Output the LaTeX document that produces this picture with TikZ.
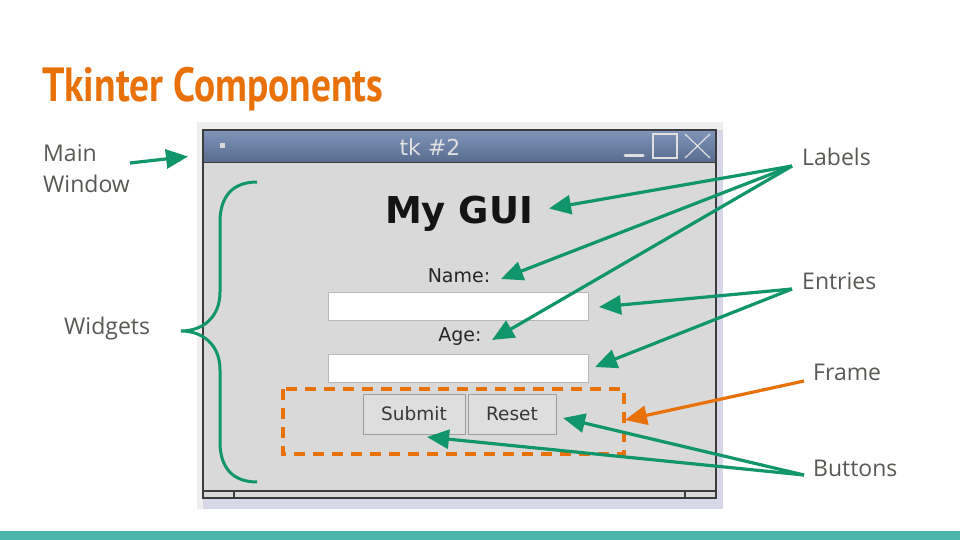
\documentclass[tikz,border=0pt]{standalone}
\usepackage{fontspec}
\setmainfont{Open Sans}
\newfontfamily\guifont{DejaVu Sans}
\newfontfamily\titlefont{PT Sans Bold}
\usetikzlibrary{arrows.meta}
\definecolor{accgreen}{RGB}{16,150,106}
\definecolor{accorange}{RGB}{232,113,10}
\definecolor{annot}{RGB}{90,88,84}
\definecolor{teal}{RGB}{77,182,172}
\definecolor{wingray}{RGB}{217,217,217}
\definecolor{outergray}{RGB}{238,238,238}
\definecolor{lavender}{RGB}{214,216,232}
\definecolor{border}{RGB}{60,60,60}
\tikzset{
  annot/.style={font=\fontsize{23}{23}\selectfont, text=annot, anchor=base west, inner sep=0pt},
  gptr/.style={draw=accgreen, line width=3.2pt, -{Triangle[length=22pt,width=19pt]}},
  optr/.style={draw=accorange, line width=3.2pt, -{Triangle[length=22pt,width=19pt]}},
  entrybox/.style={fill=white, draw=black!28, line width=1pt},
  buttonbox/.style={fill=black!13, draw=black!38, line width=1pt},
  guitext/.style={font=\guifont\fontsize{19}{19}\selectfont, text=black!85, inner sep=0pt},
  btntext/.style={font=\guifont\fontsize{18.5}{18.5}\selectfont, text=black!78, inner sep=0pt}
}
\begin{document}
\begin{tikzpicture}[x=1pt,y=-1pt]
\useasboundingbox (0,0) rectangle (960,540);
\fill[white] (0,0) rectangle (960,540);
% bottom band
\fill[teal] (0,531) rectangle (960,540);
% title
\node[anchor=base west, inner sep=0pt, text=accorange, font=\titlefont\fontsize{48}{48}\selectfont] (title) at (42,102) {\resizebox{341pt}{\height}{Tkinter Components}};
% screenshot background
\fill[outergray] (197,122) rectangle (723,509);
\fill[lavender] (203,498) rectangle (723,509);
\fill[lavender] (716,130) rectangle (723,509);
% window
\fill[wingray] (203,130) rectangle (716,498);
\shade[top color={rgb,255:red,128;green,149;blue,186}, bottom color={rgb,255:red,88;green,108;blue,143}] (203,130) rectangle (716,162);
\draw[border, line width=1.5pt] (203,130) rectangle (716,498);
\draw[border, line width=1.5pt] (203,162.5) -- (716,162.5);
\draw[border, line width=1.2pt] (203,491) -- (716,491);
\draw[border, line width=1.2pt] (234,491) -- (234,498);
\draw[border, line width=1.2pt] (685,491) -- (685,498);
% title bar contents
\fill[black!15] (219.5,143.5) rectangle (224.5,148.5);
\node[font=\guifont\fontsize{22}{22}\selectfont, text=black!12, inner sep=0pt] (wtitle) at (430,147) {tk \#2};
\draw[black!12, line width=3pt, line cap=round] (625,156) -- (643,156);
\draw[black!12, line width=1.2pt] (653,134) rectangle (677,158);
\draw[black!12, line width=1.2pt] (685,134) -- (710,158) (710,134) -- (685,158);
% widgets
\node[font=\guifont\bfseries\fontsize{37}{37}\selectfont, text=black!92, inner sep=0pt, anchor=base] (mygui) at (459,223) {My GUI};
\node[guitext, anchor=base] (namelbl) at (459,282) {Name:};
\draw[entrybox] (328,292) rectangle (588,320);
\node[inner sep=0pt] (entry1) at (458,306) {};
\node[guitext, anchor=base] (agelbl) at (460,341) {Age:};
\draw[entrybox] (328,354) rectangle (588,382);
\node[inner sep=0pt] (entry2) at (458,368) {};
\draw[buttonbox] (363,394) rectangle (465,434);
\node[btntext] (submit) at (414,414) {Submit};
\draw[buttonbox] (468,394) rectangle (556,434);
\node[btntext] (reset) at (512,414) {Reset};
\draw[accorange, line width=3.2pt, dash pattern=on 11pt off 8pt] (283,389) rectangle (624,454);
\coordinate (frame) at (624,420);
% brace
\draw[accgreen, line width=3pt] (257,182) .. controls (233,182) and (220,196) .. (220,222) -- (220,292) .. controls (220,318) and (202,331) .. (181,331) .. controls (202,331) and (220,344) .. (220,370) -- (220,442) .. controls (220,468) and (233,482) .. (257,482);
% annotation texts
\node[annot] (mainlbl) at (43,162) {Main};
\node[annot] (winlbl) at (43,193) {Window};
\node[annot] (widgets) at (64,334) {Widgets};
\node[annot] (labels) at (802,166) {Labels};
\node[annot] (entries) at (802,289) {Entries};
\node[annot] (framelbl) at (813,380) {Frame};
\node[annot] (buttons) at (813,476) {Buttons};
% arrow endpoints
\coordinate (mwA) at (130,163);
\coordinate (mwB) at (188,156.5);
\coordinate (labO) at (792,166);
\coordinate (labT1) at (549,208.5);
\coordinate (labT2) at (501,279);
\coordinate (labT3) at (492,340);
\coordinate (entO) at (792,289);
\coordinate (entT1) at (599,307);
\coordinate (entT2) at (595,367);
\coordinate (frmO) at (804,381);
\coordinate (frmT) at (625,420);
\coordinate (btnO) at (804,475);
\coordinate (btnT1) at (563,418);
\coordinate (btnT2) at (427,437);
% arrows
\draw[gptr] (mwA) -- (mwB);
\draw[gptr] (labO) -- (labT1);
\draw[gptr] (labO) -- (labT2);
\draw[gptr] (labO) -- (labT3);
\draw[gptr] (entO) -- (entT1);
\draw[gptr] (entO) -- (entT2);
\draw[optr] (frmO) -- (frmT);
\draw[gptr] (btnO) -- (btnT1);
\draw[gptr] (btnO) -- (btnT2);
\end{tikzpicture}
\end{document}
